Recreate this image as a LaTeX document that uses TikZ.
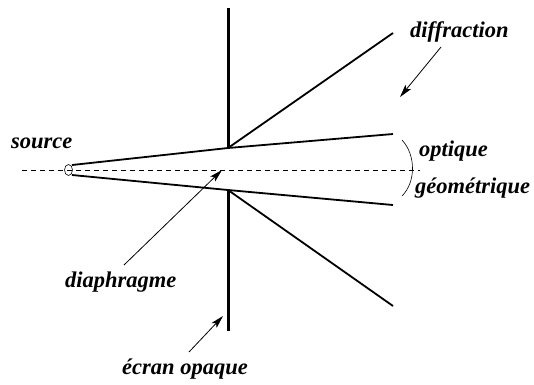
\documentclass[tikz,border=0pt]{standalone}
\usepackage{fontspec}
\setmainfont{Liberation Serif}
\usepackage{tikz}
\usetikzlibrary{arrows.meta,positioning,calc}

\tikzset{
    lbl/.style={font=\fontsize{22.5}{26}\selectfont\bfseries\itshape,inner sep=0pt},
    ray/.style={line width=1.8pt},
    pointer/.style={line width=0.8pt,-{Stealth[length=13pt,width=7pt,inset=3pt]}}
}

\begin{document}
\begin{tikzpicture}[x=1pt,y=-1pt]
    \useasboundingbox (0,0) rectangle (534,384);

    % optical axis
    \draw[line width=0.6pt,dash pattern=on 5pt off 4pt] (22,170) -- (420,170);

    % opaque screen with its aperture
    \coordinate (edgetop) at (228,148);
    \coordinate (edgebot) at (228,190);
    \draw[line width=3pt] (228,8) -- (edgetop);
    \draw[line width=3pt] (edgebot) -- (228,331);

    % point source
    \draw[line width=0.6pt] (68.5,170) ellipse (4pt and 5.5pt);
    \coordinate (srctop) at (72,165);
    \coordinate (srcbot) at (72,175);

    % geometric beam
    \draw[ray] (srctop) -- (edgetop) -- (393,134);
    \draw[ray] (srcbot) -- (edgebot) -- (393,205);

    % diffracted rays
    \draw[ray] (edgetop) -- (393,33);
    \draw[ray] (edgebot) -- (393,306);

    % brace between the beam edges
    \draw[line width=0.6pt] (402,140) .. controls (416,155) and (416,182) .. (402,196);

    % labels
    \node[lbl,anchor=base west] (source) at (11,148) {source};
    \node[lbl,anchor=base west] (diffr) at (410,37) {diffraction};
    \node[lbl,anchor=base west] (optique) at (419,156) {optique};
    \node[lbl,anchor=base west] (geom) at (415,193) {g\'eom\'etrique};
    \node[lbl,anchor=base west] (diaph) at (65,287) {diaphragme};
    \node[lbl,anchor=base west] (ecran) at (122,374) {\'ecran opaque};

    % pointers
    \coordinate (diffrfoot) at (441,47);
    \coordinate (diaphfoot) at (124,265);
    \coordinate (ecranfoot) at (189,352);
    \coordinate (diffrtip) at (400,97);
    \coordinate (diaphtip) at (222,170);
    \coordinate (ecrantip) at (223,316);
    \draw[pointer] (diffrfoot) -- (diffrtip);
    \draw[pointer] (diaphfoot) -- (diaphtip);
    \draw[pointer] (ecranfoot) -- (ecrantip);
\end{tikzpicture}
\end{document}
